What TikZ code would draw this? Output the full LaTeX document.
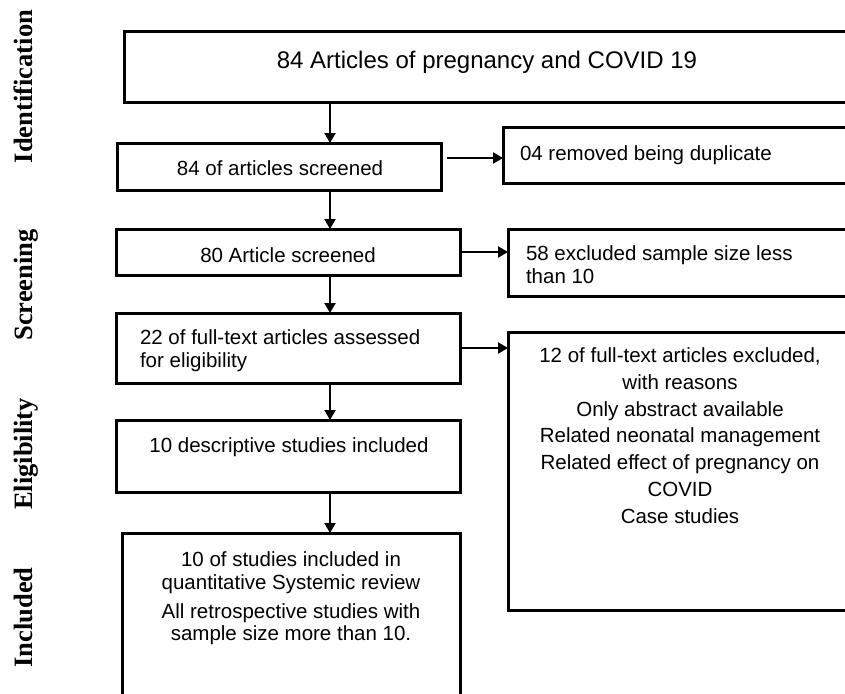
\documentclass[tikz,border=0pt]{standalone}
\usepackage{fontspec}
\setmainfont{Liberation Sans}
\newfontfamily\sidefont{Liberation Serif}
\usetikzlibrary{arrows.meta}
\tikzset{
  box/.style={draw, line width=3pt, anchor=north west, inner sep=0pt, outer sep=0pt},
  arr/.style={line width=2.2pt, -{Triangle[length=10pt,width=11pt]}},
  txt/.style={font=\fontsize{20.5}{23}\selectfont, inner sep=0pt, outer sep=0pt},
  side/.style={font=\sidefont\bfseries\fontsize{26.5}{30}\selectfont, rotate=90, anchor=base, inner sep=0pt}
}
\begin{document}
\begin{tikzpicture}[x=1pt,y=-1pt]
\useasboundingbox (0,0) rectangle (845,693);
\clip (0,0) rectangle (845,693);
\fill[white] (0,0) rectangle (845,693);

% side labels
\node[side] (l1) at (32.5,86.5) {Identification};
\node[side] (l2) at (32.5,285) {Screening};
\node[side] (l3) at (32.5,454) {Eligibility};
\node[side] (l4) at (32.5,617.5) {Included};

% main column boxes
\node[box, minimum width=776pt, minimum height=70pt] (b1) at (124,32) {};
\node[box, minimum width=324pt, minimum height=47pt] (b2) at (117,143) {};
\node[box, minimum width=344pt, minimum height=46pt] (b3) at (116,229) {};
\node[box, minimum width=344pt, minimum height=70pt] (b4) at (116,313) {};
\node[box, minimum width=344pt, minimum height=72pt] (b5) at (116,420) {};
\node[box, minimum width=338pt, minimum height=200pt] (b6) at (122,533) {};

% right column boxes
\node[box, minimum width=400pt, minimum height=56pt] (r1) at (503,127) {};
\node[box, minimum width=400pt, minimum height=67pt] (r2) at (508,229) {};
\node[box, minimum width=360pt, minimum height=278pt] (r3) at (508,332) {};

% texts
\node[txt, font=\fontsize{24}{28}\selectfont, anchor=base] (t1) at (487,68) {84 Articles of pregnancy and COVID 19};
\node[txt, anchor=base] (t2) at (280,175) {84 of articles screened};
\node[txt, anchor=base] (t3) at (288,262) {80 Article screened};
\node[txt, anchor=north west, align=left] (t4) at (140,330) {22 of full-text articles assessed\\for eligibility};
\node[txt, anchor=base] (t5) at (289,452) {10 descriptive studies included};
\node[txt, font=\fontsize{20.5}{22.5}\selectfont, anchor=north, align=center] (t6) at (291,552)
  {10 of studies included in\\quantitative Systemic review\\[6.5pt]All retrospective studies with\\sample size more than 10.};
\node[txt, anchor=base west] (s1) at (520,160) {04 removed being duplicate};
\node[txt, anchor=north west, align=left] (s2) at (526,246) {58 excluded sample size less\\than 10};
\node[txt, font=\fontsize{20.5}{26.7}\selectfont, anchor=north, align=center] (s3) at (680,348)
  {12 of full-text articles excluded,\\with reasons\\Only abstract available\\Related neonatal management\\Related effect of pregnancy on\\COVID\\Case studies};

% connectors
\coordinate (ax) at (330,0);
\coordinate (y1) at (0,158);
\draw[arr] (ax |- b1.south) -- (ax |- b2.north);
\draw[arr] (ax |- b2.south) -- (ax |- b3.north);
\draw[arr] (ax |- b3.south) -- (ax |- b4.north);
\draw[arr] (ax |- b4.south) -- (ax |- b5.north);
\draw[arr] (ax |- b5.south) -- (ax |- b6.north);
\draw[arr] ([xshift=6pt]b2.east |- y1) -- (r1.west |- y1);
\draw[arr] (b3.east) -- (b3.east -| r2.west);
\draw[arr] (b4.east) -- (b4.east -| r3.west);
\end{tikzpicture}
\end{document}
